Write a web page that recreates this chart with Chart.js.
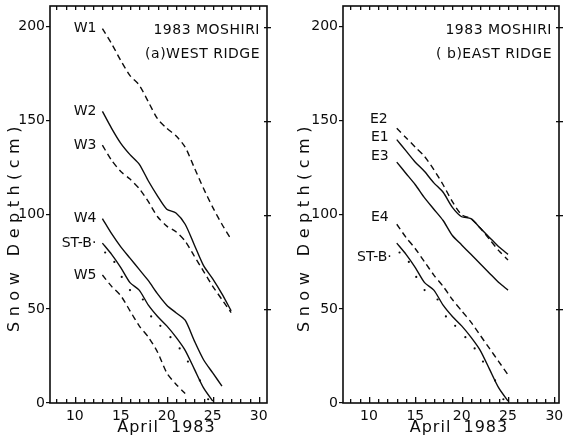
<!DOCTYPE html>
<html>
<head>
<meta charset="utf-8">
<script src="https://cdn.jsdelivr.net/npm/chart.js@4"></script>
<style>
  html, body { margin: 0; padding: 0; background: #fff; }
  #wrap { position: relative; width: 563px; height: 441px; overflow: hidden; }
  .panel { position: absolute; top: 0; height: 441px; }
</style>
</head>
<body>
<div id="wrap">
  <div class="panel" style="left:0;width:290px"><canvas id="west" width="290" height="441"></canvas></div>
  <div class="panel" style="left:290px;width:273px"><canvas id="east" width="273" height="441"></canvas></div>
</div>
<script>
// days of April 1983 (first day of every series is the 13th)
const days = [13, 14, 15, 16, 17, 18, 19, 20, 21, 22, 23, 24, 25, 26, 27];
const yTicks = [0, 50, 100, 150, 200];
const xTicks = [10, 15, 20, 25, 30];
const dayMarks = [8, 9, 10, 11, 12, 13, 14, 15, 16, 17, 18, 19, 20, 21, 22, 23, 24, 25, 26, 27, 28, 29, 30];

// (a) west ridge, snow depth in cm
const W1 = [199, 191, 182, 174, 169, 160, 151, 146, 142, 136, 125, 114, 104, 95, 87];
const W2 = [155, 146, 138, 132, 127, 118, 110, 103, 101, 95, 84, 73, 66, 58, 49];
const W3 = [137, 129, 123, 119, 114, 107, 99, 94, 91, 86, 78, 70, 62, 55, 48];
const W4 = [98, 90, 83, 77, 71, 65, 58, 52, 48, 44, 33, 23, 16, 9];
const W5 = [68, 62, 57, 49, 41, 35, 27, 16, 10, 5];
const STB = [85, 79, 72, 64, 60, 52, 46, 41, 35, 28, 18, 8, 1];

// (b) east ridge
const E1 = [140, 134, 128, 123, 117, 112, 104, 99, 98, 93, 88, 83, 79];
const E2 = [146, 141, 136, 131, 124, 116, 107, 100, 98, 93, 87, 81, 76];
const E3 = [128, 122, 116, 109, 103, 97, 89, 84, 79, 74, 69, 64, 60];
const E4 = [95, 88, 82, 75, 68, 62, 55, 49, 43, 36, 29, 22, 15];

// scattered observations at ST-B
const stbDotDays = [13.3, 14.3, 15.1, 16.0, 17.4, 18.3, 19.3, 20.4, 21.4, 22.3, 23.6, 24.5];
const stbDotDepth = [80, 75, 67, 60, 55, 46, 41, 35, 29, 22, 12, 2];

const INK = '#0c0c0c';
const FONT = "'DejaVu Sans', sans-serif";

function pts(vals) {
    return vals.map((v, i) => ({ x: days[i], y: v }));
}

function lineSet(name, vals, dashed, lbl) {
    return {
        label: name,
        data: pts(vals),
        borderColor: INK,
        borderWidth: 1.4,
        borderDash: dashed ? [6, 4] : [],
        pointRadius: 0,
        tension: 0.25,
        fill: false,
        seriesLabel: lbl
    };
}

function dotSet() {
    return {
        label: 'ST-B obs',
        data: stbDotDays.map((d, i) => ({ x: d, y: stbDotDepth[i] })),
        showLine: false,
        pointRadius: 1.1,
        pointBackgroundColor: INK,
        pointBorderWidth: 0
    };
}

// frame, minor ticks, captions, axis titles and curve names
const decor = {
    id: 'decor',
    afterDraw(chart) {
        const ctx = chart.ctx;
        const a = chart.chartArea;
        const xs = chart.scales.x, ys = chart.scales.y;
        const o = chart.options.plugins.decor;
        ctx.save();
        ctx.setLineDash([]);
        ctx.strokeStyle = INK;
        ctx.lineWidth = 1.6;
        ctx.strokeRect(a.left, a.top, a.right - a.left, a.bottom - a.top);

        ctx.fillStyle = INK;
        dayMarks.forEach(d => {
            const px = Math.round(xs.getPixelForValue(d));
            const big = d % 5 === 0 ? 6 : 4;
            ctx.fillRect(px, a.bottom - big, 1.3, big);
            ctx.fillRect(px, a.top, 1.3, 4);
        });
        yTicks.forEach(v => {
            if (v === 0) return;
            const py = Math.round(ys.getPixelForValue(v));
            ctx.fillRect(a.right - 3, py, 7, 1.3);
        });

        ctx.font = '14px ' + FONT;
        ctx.textAlign = 'right';
        ctx.textBaseline = 'middle';
        ctx.letterSpacing = '0.5px';
        ctx.fillText('1983 MOSHIRI', a.right - 7, a.top + 24);
        ctx.fillText(o.caption, a.right - 7, a.top + 48);

        ctx.letterSpacing = '0px';
        chart.data.datasets.forEach(ds => {
            if (!ds.seriesLabel) return;
            const p = ds.data[0];
            const px = xs.getPixelForValue(p.x) + ds.seriesLabel[0];
            const py = ys.getPixelForValue(p.y) + ds.seriesLabel[1];
            ctx.fillText(ds.seriesLabel[2], px, py);
        });

        // x axis title
        ctx.textAlign = 'center';
        ctx.font = '16px ' + FONT;
        ctx.letterSpacing = '1px';
        ctx.fillText('April  1983', (a.left + a.right) / 2 + 8, a.bottom + 25);

        // y axis title, widely spaced as on the plotter original
        ctx.translate(o.titleX, (a.top + a.bottom) / 2 + 22);
        ctx.rotate(-Math.PI / 2);
        ctx.font = '16px ' + FONT;
        ctx.letterSpacing = '5.5px';
        ctx.fillText('Snow Depth(cm)', 0, 0);
        ctx.restore();
    }
};

function makeChart(id, datasets, xmin, xmax, yWidth, padRight, caption) {
    return new Chart(document.getElementById(id), {
        type: 'line',
        data: { datasets: datasets },
        plugins: [decor],
        options: {
            responsive: false,
            animation: false,
            layout: { padding: { top: 6, right: padRight, left: 0, bottom: 0 } },
            plugins: {
                legend: { display: false },
                tooltip: { enabled: false },
                decor: { caption: caption, titleX: 15 }
            },
            scales: {
                x: {
                    type: 'linear',
                    min: xmin,
                    max: xmax,
                    afterBuildTicks: s => { s.ticks = xTicks.map(v => ({ value: v })); },
                    afterFit: s => { s.height = 38; s.paddingLeft = 0; s.paddingRight = 0; },
                    grid: { display: false, drawTicks: false },
                    border: { display: false },
                    ticks: { color: INK, padding: 5, font: { family: FONT, size: 14 }, maxRotation: 0 }
                },
                y: {
                    type: 'linear',
                    min: 0,
                    max: 211,
                    afterBuildTicks: s => { s.ticks = yTicks.map(v => ({ value: v })); },
                    afterFit: s => { s.width = yWidth; s.paddingTop = 0; s.paddingBottom = 0; },
                    grid: { drawOnChartArea: false, drawTicks: true, tickLength: 4, color: INK, lineWidth: 1.2 },
                    border: { display: false },
                    ticks: { color: INK, padding: 1, font: { family: FONT, size: 14 } }
                }
            }
        }
    });
}

makeChart('west', [
    lineSet('W1', W1, true, [-6, 0, 'W1']),
    lineSet('W2', W2, false, [-6, 0, 'W2']),
    lineSet('W3', W3, true, [-6, 0, 'W3']),
    lineSet('W4', W4, false, [-6, 0, 'W4']),
    lineSet('ST-B', STB, false, [-6, 0, 'ST-B·']),
    lineSet('W5', W5, true, [-6, 0, 'W5']),
    dotSet()
], 7.3, 30.9, 50, 23, '(a)WEST RIDGE');

makeChart('east', [
    lineSet('E2', E2, true, [-9, -9, 'E2']),
    lineSet('E1', E1, false, [-8, -2, 'E1']),
    lineSet('E3', E3, false, [-8, -6, 'E3']),
    lineSet('E4', E4, true, [-8, -7, 'E4']),
    lineSet('ST-B', STB, false, [-5, 14, 'ST-B·']),
    dotSet()
], 7.2, 30.5, 53, 4, '( b)EAST RIDGE');
</script>
</body>
</html>
